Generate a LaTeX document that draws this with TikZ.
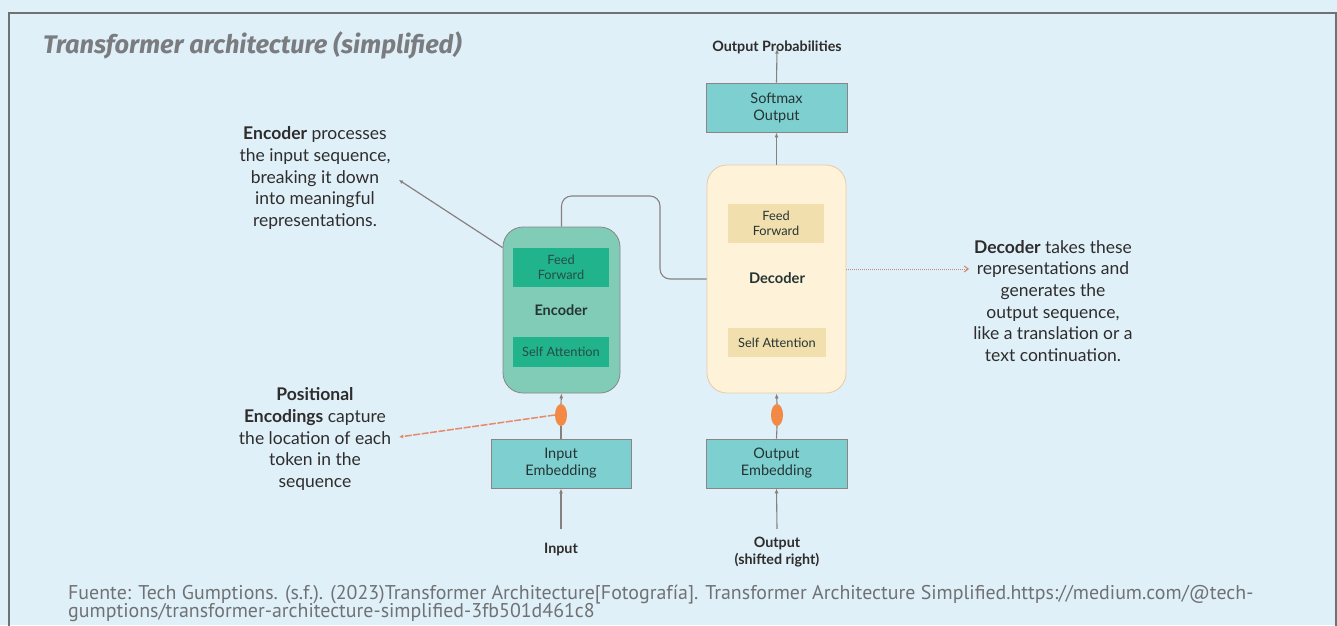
\documentclass[tikz,border=0pt]{standalone}
\usepackage{fontspec}
\setmainfont{Lato}
\newfontfamily\capfont{PT Sans}
\newfontfamily\headfont{Fira Sans}
\usetikzlibrary{arrows.meta,shapes.geometric}

\definecolor{bg}{HTML}{DFF0F9}
\definecolor{framegray}{HTML}{707173}
\definecolor{titlegray}{HTML}{7B7C7F}
\definecolor{tealbox}{HTML}{7ECFD0}
\definecolor{boxedge}{HTML}{8C8585}
\definecolor{encfill}{HTML}{80CCB6}
\definecolor{encinner}{HTML}{21B38C}
\definecolor{decfill}{HTML}{FEF3D8}
\definecolor{decedge}{HTML}{EBC9A6}
\definecolor{decinner}{HTML}{F2DFAE}
\definecolor{wire}{HTML}{8A7F7F}
\definecolor{posorange}{HTML}{F28A45}
\definecolor{salmon}{HTML}{E8896A}
\definecolor{notetext}{HTML}{2F2C2C}
\definecolor{inktext}{HTML}{263434}

\tikzset{
  tealblock/.style={draw=boxedge, line width=0.8pt, fill=tealbox, minimum width=141pt,
    minimum height=49pt, align=center, inner sep=0pt, text=inktext,
    font=\fontsize{14.5}{17}\selectfont},
  stack/.style={line width=0.8pt, rounded corners=20pt, inner sep=0pt},
  sublayer/.style={minimum width=96pt, align=center, inner sep=0pt,
    font=\fontsize{12.8}{15}\selectfont},
  posenc/.style={ellipse, fill=posorange, draw=none, minimum width=12pt,
    minimum height=22pt, inner sep=0pt},
  note/.style={align=center, text=notetext, font=\fontsize{17.5}{21.7}\selectfont, inner sep=0pt},
  flow/.style={draw=wire, line width=1.1pt, -{Latex[length=5pt,width=4pt]}},
  plainwire/.style={draw=wire, line width=1.1pt},
  iolabel/.style={align=center, text=notetext, font=\bfseries\fontsize{14.3}{17}\selectfont, inner sep=0pt}
}

\begin{document}
\begin{tikzpicture}[x=1pt,y=-1pt]
  % page and frame
  \useasboundingbox (0,0) rectangle (1337,625);
  \fill[bg] (0,0) rectangle (1337,625);
  \draw[framegray, line width=1.2pt] (9,627) -- (9,13) -- (1336,13) -- (1336,627);

  % heading
  \node[anchor=base west, inner sep=0pt, text=titlegray,
        font=\headfont\bfseries\itshape\fontsize{25.4}{29}\selectfont] (title) at (43,53)
        {Transformer architecture (simplified)};

  % decoder column
  \node[iolabel] (outprob) at (777,47) {Output Probabilities};
  \node[tealblock] (softmax) at (776.5,107.5) {Softmax\\Output};
  \node[stack, draw=decedge, fill=decfill, minimum width=139pt, minimum height=228pt] (decoder) at (776.5,279) {};
  \node[sublayer, fill=decinner, minimum height=39pt, text=inktext] (decff) at (776,223.5) {Feed\\Forward};
  \node[font=\bfseries\fontsize{14.7}{17}\selectfont, text=inktext] (declabel) at (777,278) {Decoder};
  \node[sublayer, fill=decinner, minimum width=98pt, minimum height=29pt, text=inktext] (decsa) at (777,342.5) {Self Attention};
  \node[posenc] (decpe) at (777,415) {};
  \node[tealblock] (outemb) at (776.5,463.5) {Output\\Embedding};
  \node[iolabel] (outtok) at (777,552) {Output\\(shifted right)};

  % encoder column
  \node[stack, draw=boxedge, fill=encfill, minimum width=117pt, minimum height=166pt] (encoder) at (561.5,310) {};
  \node[sublayer, fill=encinner, minimum height=39pt, text=inktext!80!encinner] (encff) at (561,267.5) {Feed\\Forward};
  \node[font=\bfseries\fontsize{14.5}{17}\selectfont, text=inktext] (enclabel) at (561,310) {Encoder};
  \node[sublayer, fill=encinner, minimum height=30pt, text=inktext!80!encinner] (encsa) at (561,352) {Self Attention};
  \node[posenc] (encpe) at (561,415) {};
  \node[tealblock, minimum width=140pt] (inemb) at (561,463.5) {Input\\Embedding};
  \node[iolabel] (intok) at (561,550) {Input};

  % data flow
  \draw[flow] (intok.north) ++(0,-14) -- (inemb.south);
  \draw[plainwire] (inemb.north) -- (encpe.south);
  \draw[flow] (encpe.north) -- (encoder.south);
  \draw[flow] (outtok.north) ++(0,-8) -- (outemb.south);
  \draw[plainwire] (outemb.north) -- (decpe.south);
  \draw[flow] (decpe.north) -- (decoder.south);
  \draw[flow] (decoder.north) -- (softmax.south);
  \draw[flow] (softmax.north) -- ([yshift=5pt]outprob.south);
  \coordinate (bend) at (660,196);
  \draw[plainwire, rounded corners=10pt] (encoder.north) |- (bend) |- (decoder.west);

  % annotations
  \node[note] (encnote) at (315,178)
    {\textbf{Encoder} processes\\the input sequence,\\breaking it down\\into meaningful\\representations.};
  \node[note] (posnote) at (315,439)
    {\textbf{Positional}\\\textbf{Encodings} capture\\the location of each\\token in the\\sequence};
  \node[note] (decnote) at (1053,301)
    {\textbf{Decoder} takes these\\representations and\\generates the\\output sequence,\\like a translation or a\\text continuation.};

  \coordinate (encpin) at ([yshift=-21pt]encoder.north west);
  \coordinate (enctip) at (399,180);
  \draw[wire, line width=1.2pt, -{Latex[length=4pt,width=4pt]}] (encpin) -- (enctip);
  \coordinate (postip) at (399,437);
  \draw[salmon, line width=1.5pt, dash pattern=on 7pt off 1.5pt, -{Latex[length=4pt,width=4pt]}] (encpe.west) -- (postip);
  \coordinate (dectip) at (969,269);
  \draw[salmon!70!wire, line width=1pt, densely dotted, -{Straight Barb[length=4pt,width=6pt]}] (decoder.east |- dectip) -- (dectip);

  % source line
  \node[anchor=base west, inner sep=0pt, text=framegray, font=\capfont\fontsize{19.9}{18}\selectfont] (src1) at (68,599)
    {Fuente: Tech Gumptions. (s.f.). (2023)Transformer Architecture[Fotografía]. Transformer Architecture Simplified.https://medium.com/@tech-};
  \node[anchor=base west, inner sep=0pt, text=framegray, font=\capfont\fontsize{19.9}{18}\selectfont] (src2) at (68,617)
    {gumptions/transformer-architecture-simplified-3fb501d461c8};
\end{tikzpicture}
\end{document}
